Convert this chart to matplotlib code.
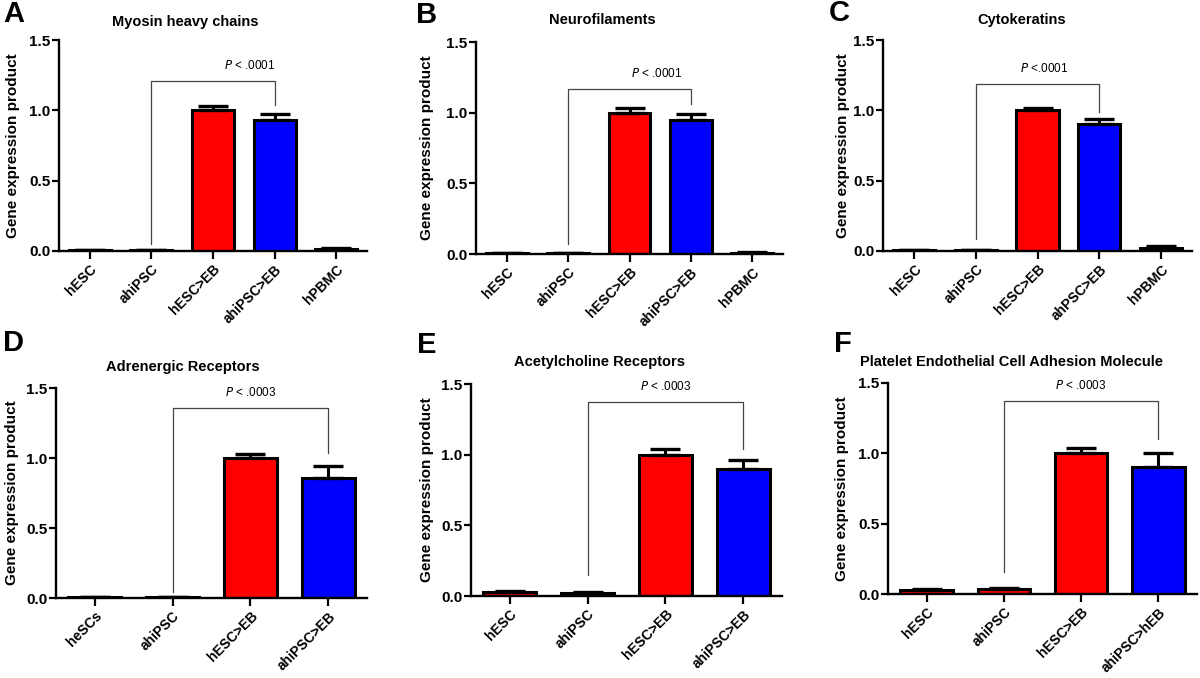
import matplotlib
matplotlib.use("Agg")
import matplotlib.pyplot as plt
import numpy as np

plt.rcParams['font.family'] = ['Liberation Sans', 'DejaVu Sans']

# data
labels_A = ['hESC', 'ahiPSC', 'hESC>EB', 'ahiPSC>EB', 'hPBMC']
means_A = [0.005, 0.005, 1.0, 0.93, 0.012]
errs_A = [0.002, 0.002, 0.03, 0.045, 0.01]

labels_B = ['hESC', 'ahiPSC', 'hESC>EB', 'ahiPSC>EB', 'hPBMC']
means_B = [0.005, 0.005, 1.0, 0.945, 0.01]
errs_B = [0.002, 0.002, 0.035, 0.045, 0.004]

labels_C = ['hESC', 'ahiPSC', 'hESC>EB', 'ahPSC>EB', 'hPBMC']
means_C = [0.005, 0.005, 1.0, 0.9, 0.022]
errs_C = [0.002, 0.002, 0.02, 0.04, 0.01]

labels_D = ['heSCs', 'ahiPSC', 'hESC>EB', 'ahiPSC>EB']
means_D = [0.005, 0.005, 1.0, 0.86]
errs_D = [0.002, 0.002, 0.03, 0.085]

labels_E = ['hESC', 'ahiPSC', 'hESC>EB', 'ahiPSC>EB']
means_E = [0.028, 0.022, 1.0, 0.9]
errs_E = [0.01, 0.008, 0.04, 0.06]

labels_F = ['hESC', 'ahiPSC', 'hESC>EB', 'ahiPSC>hEB']
means_F = [0.028, 0.032, 1.0, 0.9]
errs_F = [0.01, 0.01, 0.04, 0.105]

titles = ['Myosin heavy chains', 'Neurofilaments', 'Cytokeratins',
          'Adrenergic Receptors', 'Acetylcholine Receptors',
          'Platelet Endothelial Cell Adhesion Molecule']
pvals = ['< .0001', '< .0001', '<.0001', '< .0003', '< .0003', '< .0003']
letters = ['A', 'B', 'C', 'D', 'E', 'F']

RED = '#ff0000'
BLUE = '#0000ff'
colors5 = [RED, RED, RED, BLUE, RED]
colors5_c = [RED, RED, RED, BLUE, 'white']
colors4 = [RED, RED, RED, BLUE]

W, H = 1200, 678
fig = plt.figure(figsize=(12, 6.78), dpi=100)


def px_axes(left, right, top, bottom):
    return fig.add_axes([left / W, 1 - bottom / H, (right - left) / W, (bottom - top) / H])


def draw_panel(ax, labels, means, errs, colors, bracket, ptext_x, ptext):
    x = np.arange(len(labels))
    ax.bar(x, means, width=0.68, color=colors, edgecolor='black', linewidth=2.2, zorder=2)
    ax.errorbar(x, means, yerr=[np.zeros(len(x)), errs], fmt='none', ecolor='black',
                elinewidth=2.2, capsize=11, capthick=2.4, zorder=3)
    ax.set_xlim(-0.5, len(labels) - 0.5)
    ax.set_ylim(0, 1.5)
    ax.set_yticks([0, 0.5, 1.0, 1.5])
    ax.set_yticklabels(['0.0', '0.5', '1.0', '1.5'], fontweight='bold', fontsize=11)
    ax.set_xticks(x)
    ax.set_xticklabels(labels, rotation=45, ha='right', rotation_mode='anchor',
                       fontweight='bold', fontsize=10)
    for s in ['top', 'right']:
        ax.spines[s].set_visible(False)
    for s in ['left', 'bottom']:
        ax.spines[s].set_linewidth(1.7)
    ax.tick_params(axis='y', width=1.6, length=5, pad=1)
    ax.tick_params(axis='x', width=1.6, length=6, pad=2)
    ax.set_ylabel('Gene expression product', fontweight='bold', fontsize=11)
    # significance bracket
    y_left, y_top, y_right = bracket
    ax.plot([1, 1, 3, 3], [y_left, y_top, y_top, y_right], color='#444444',
            linewidth=0.9, clip_on=False, zorder=4)
    ax.text(ptext_x, y_top + 0.11, r'$\it{P}$ ' + ptext, ha='center', va='center',
            fontsize=8.5)


# axes placement in pixels: left, right, top (y=1.5), bottom (y=0)
boxes = [(59, 367, 40, 251), (476, 783, 42, 254), (883, 1192, 40, 251),
         (56, 367, 388, 598), (471, 782, 384, 596), (888, 1197, 383, 594)]
ylabel_x = [13, 427, 843, 12, 427, 842]
brackets = [(0.05, 1.21, 1.04), (0.07, 1.17, 1.06), (0.085, 1.19, 0.99),
            (0.04, 1.36, 1.035), (0.15, 1.37, 1.04), (0.155, 1.37, 1.10)]
ptext_xs = [2.6, 2.45, 2.1, 2.0, 2.0, 2.0]
title_pos = [(185, 22), (602, 20), (1022, 20), (183, 367), (600, 362), (1011, 362)]
letter_pos = [(3, 14), (416, 15), (829, 13), (3, 343), (417, 345), (834, 344)]

panels = [(labels_A, means_A, errs_A, colors5),
          (labels_B, means_B, errs_B, colors5),
          (labels_C, means_C, errs_C, colors5_c),
          (labels_D, means_D, errs_D, colors4),
          (labels_E, means_E, errs_E, colors4),
          (labels_F, means_F, errs_F, colors4)]

for i, (labels, means, errs, colors) in enumerate(panels):
    left, right, top, bottom = boxes[i]
    ax = px_axes(left, right, top, bottom)
    draw_panel(ax, labels, means, errs, colors, brackets[i], ptext_xs[i], pvals[i])
    # ylabel anchored at its baseline (right side when rotated)
    ax.yaxis.set_label_coords((ylabel_x[i] + 7 - left) / (right - left), 0.5)
    tx, ty = title_pos[i]
    fig.text(tx / W, 1 - ty / H, titles[i], ha='center', va='center',
             fontweight='bold', fontsize=10.5)
    lx, ly = letter_pos[i]
    fig.text(lx / W, 1 - ly / H, letters[i], ha='left', va='center',
             fontweight='bold', fontsize=21)

fig.savefig('out.png', dpi=100)
